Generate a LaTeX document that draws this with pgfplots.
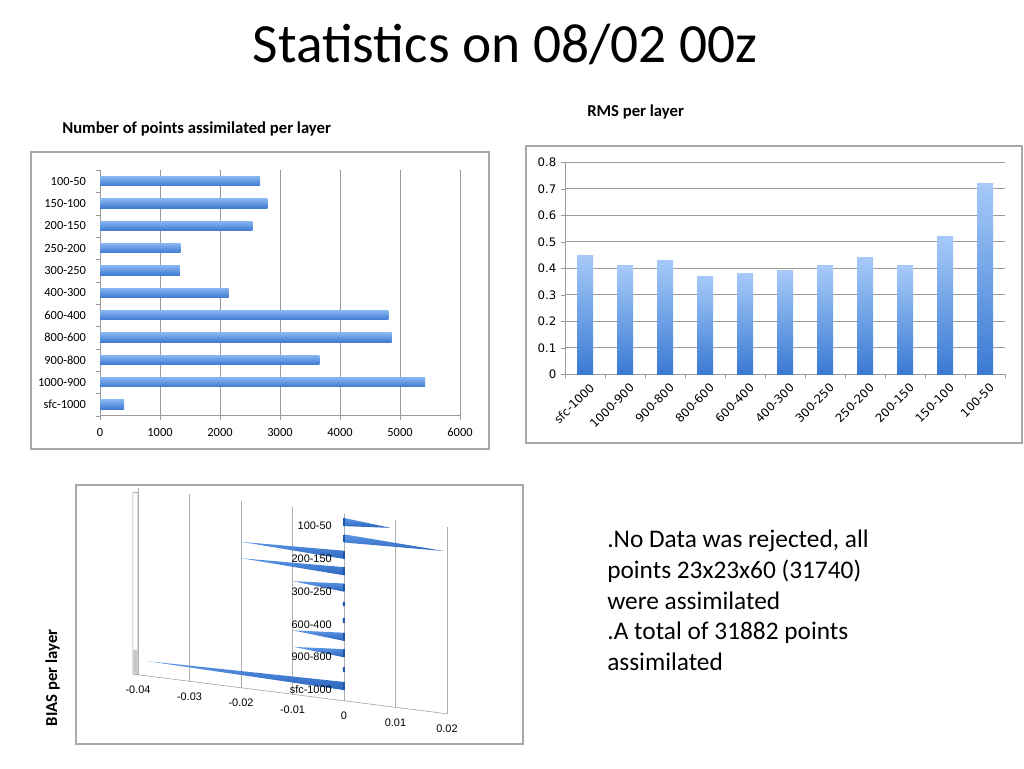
\documentclass[border=0pt]{standalone}
\usepackage{pgfplots}
\pgfplotsset{compat=1.18}
\usepackage{fontspec}
\setmainfont{Carlito}
\newfontfamily\dejavu{DejaVu Sans}
\newfontfamily\libsans{Liberation Sans}
\definecolor{lbarTop}{HTML}{86B4F0}
\definecolor{lbarMid}{HTML}{4E8ADD}
\definecolor{lbarBot}{HTML}{3F7BD2}
\definecolor{rbarTop}{HTML}{A6CAF8}
\definecolor{rbarBot}{HTML}{3A7AD3}
\definecolor{coneTop}{HTML}{5E97E6}
\definecolor{coneBot}{HTML}{2A64BC}
\definecolor{coneBase}{HTML}{1F55A8}
\definecolor{gridc}{HTML}{9A9A9A}
\definecolor{framec}{HTML}{A8A8A8}

\pgfplotsset{
  lbar/.style={xbar, bar shift=0pt, draw=none, top color=lbarTop, middle color=lbarMid, bottom color=lbarBot, forget plot},
  rbar/.style={ybar, bar shift=0pt, draw=none, top color=rbarTop, bottom color=rbarBot, forget plot},
  cone/.style={draw=none, top color=coneTop, bottom color=coneBot, forget plot},
}

\begin{document}
\begin{tikzpicture}[x=0.75pt,y=-0.75pt]
\path[use as bounding box] (0,0) rectangle (1024,768);

% ---- titles and text
\node[font=\fontsize{41.5}{48}\selectfont, anchor=base, inner sep=0pt] at (505,62.5) {Statistics on 08/02 00z};
\node[font=\bfseries\fontsize{12.5}{15}\selectfont, anchor=base west, inner sep=0pt] at (62,133.5) {Number of points assimilated per layer};
\node[font=\bfseries\fontsize{12.5}{15}\selectfont, anchor=base west, inner sep=0pt] at (587,116.5) {RMS per layer};
\node[font=\bfseries\fontsize{12.5}{15}\selectfont, anchor=base, rotate=90, inner sep=0pt] at (57,678) {BIAS per layer};
\node[font=\fontsize{19}{22.95}\selectfont, anchor=north west, inner sep=0pt, align=left] at (607,530)
 {.No Data was rejected, all\\points 23x23x60 (31740)\\were assimilated\\.A total of 31882 points\\assimilated};

% ---- frames
\draw[framec, line width=0.8pt] (31,152) rectangle (489,449);
\draw[framec, line width=0.8pt] (526,146) rectangle (1022,443);
\draw[framec, line width=0.8pt] (76,485) rectangle (523,744);

\coordinate (L) at (100,415.7);
\coordinate (R) at (565,374.3);
\coordinate (B) at (344,686);

% ---- left chart: number of points
\begin{axis}[at={(L)}, anchor=south west, scale only axis,
  width=270pt, height=184.3pt,
  bar width=7pt,
  xmin=0, xmax=6000, ymin=-0.5, ymax=10.5,
  axis x line*=bottom, axis y line*=left,
  axis line style={gridc, -},
  xmajorgrids, grid style={gridc, line width=0.6pt},
  xtick={0,1000,2000,3000,4000,5000,6000},
  ytick={0,...,10},
  yticklabels={sfc-1000,1000-900,900-800,800-600,600-400,400-300,300-250,250-200,200-150,150-100,100-50},
  ytick style={draw=none},
  xtick style={draw=gridc},
  tick align=outside, major tick length=3pt,
  extra y ticks={-0.5,0.5,1.5,2.5,3.5,4.5,5.5,6.5,7.5,8.5,9.5,10.5},
  extra y tick labels={},
  extra y tick style={ytick style={draw=gridc}},
  tick label style={font=\fontsize{9.3}{11}\selectfont},
  yticklabel style={xshift=-4pt},
  xticklabel style={yshift=-3pt},
  scaled x ticks=false,
  /pgf/number format/1000 sep={},
  /pgf/number format/assume math mode=true,
]
\addplot[lbar] coordinates {(400,0)};
\addplot[lbar] coordinates {(5417,1)};
\addplot[lbar] coordinates {(3656,2)};
\addplot[lbar] coordinates {(4861,3)};
\addplot[lbar] coordinates {(4806,4)};
\addplot[lbar] coordinates {(2144,5)};
\addplot[lbar] coordinates {(1333,6)};
\addplot[lbar] coordinates {(1344,7)};
\addplot[lbar] coordinates {(2539,8)};
\addplot[lbar] coordinates {(2789,9)};
\addplot[lbar] coordinates {(2667,10)};
\end{axis}

% ---- right chart: RMS
\begin{axis}[at={(R)}, anchor=south west, scale only axis,
  width=330pt, height=159pt,
  bar width=12pt,
  xmin=-0.5, xmax=10.5, ymin=0, ymax=0.8,
  axis x line*=bottom, axis y line*=left,
  axis line style={gridc, -},
  ymajorgrids, grid style={gridc, line width=0.6pt},
  ytick={0,0.1,0.2,0.3,0.4,0.5,0.6,0.7,0.8},
  xtick={0,...,10},
  xticklabels={sfc-1000,1000-900,900-800,800-600,600-400,400-300,300-250,250-200,200-150,150-100,100-50},
  xtick style={draw=none},
  ytick style={draw=gridc},
  tick align=outside, major tick length=3pt,
  extra x ticks={-0.5,0.5,1.5,2.5,3.5,4.5,5.5,6.5,7.5,8.5,9.5,10.5},
  extra x tick labels={},
  extra x tick style={xtick style={draw=gridc}, grid=none},
  tick label style={font=\dejavu\fontsize{8.8}{10}\selectfont},
  xticklabel style={rotate=45, anchor=north east, inner sep=1pt, xshift=1pt, yshift=-3pt},
  yticklabel style={/pgf/number format/fixed, /pgf/number format/precision=1},
  scaled y ticks=false,
  /pgf/number format/assume math mode=true,
]
\addplot[rbar] coordinates {(0,0.45)};
\addplot[rbar] coordinates {(1,0.41)};
\addplot[rbar] coordinates {(2,0.43)};
\addplot[rbar] coordinates {(3,0.37)};
\addplot[rbar] coordinates {(4,0.38)};
\addplot[rbar] coordinates {(5,0.39)};
\addplot[rbar] coordinates {(6,0.41)};
\addplot[rbar] coordinates {(7,0.44)};
\addplot[rbar] coordinates {(8,0.41)};
\addplot[rbar] coordinates {(9,0.52)};
\addplot[rbar] coordinates {(10,0.72)};
\end{axis}

% ---- bottom chart: BIAS
\begin{axis}[at={(B)}, anchor=origin,
  x={(3862.5pt,-487.5pt)}, y={(0pt,12.3pt)},
  xmin=-0.04, xmax=0.02, ymin=-0.9, ymax=10.5,
  axis x line*=bottom, axis y line=none,
  axis line style={gridc, -},
  xmajorgrids, grid style={gridc!80, line width=0.5pt},
  xtick={-0.04,-0.03,-0.02,-0.01,0,0.01,0.02},
  xtick style={draw=none},
  scaled x ticks=false,
  tick label style={font=\libsans\fontsize{8.2}{10}\selectfont},
  xticklabel style={yshift=-5pt, /pgf/number format/fixed, /pgf/number format/precision=2},
  /pgf/number format/assume math mode=true,
  clip=false,
]
% left wall
\draw[gridc, fill=white, line width=0.5pt] (axis cs:-0.0410,-0.9) -- (axis cs:-0.0410,10.2) -- (axis cs:-0.0400,10.2) -- (axis cs:-0.0400,-0.9) -- cycle;
\fill[gray!45] (axis cs:-0.0409,-0.85) -- (axis cs:-0.0409,0.6) -- (axis cs:-0.0401,0.6) -- (axis cs:-0.0401,-0.85) -- cycle;
% cones: base at 0, tip at the bias value
\addplot[cone] coordinates {(0,10.25) (0.009,10) (0,9.75)} --cycle;
\addplot[cone] coordinates {(0,9.25) (0.0194,9) (0,8.75)} --cycle;
\addplot[cone] coordinates {(0,8.25) (-0.02,8) (0,7.75)} --cycle;
\addplot[cone] coordinates {(0,7.25) (-0.02,7) (0,6.75)} --cycle;
\addplot[cone] coordinates {(0,6.25) (-0.01,6) (0,5.75)} --cycle;
\addplot[cone] coordinates {(0,5.2) (-0.0003,5) (0,4.8)} --cycle;
\addplot[cone] coordinates {(0,4.2) (-0.0003,4) (0,3.8)} --cycle;
\addplot[cone] coordinates {(0,3.25) (-0.01,3) (0,2.75)} --cycle;
\addplot[cone] coordinates {(0,2.25) (-0.0097,2) (0,1.75)} --cycle;
\addplot[cone] coordinates {(0,1.2) (-0.0003,1) (0,0.8)} --cycle;
\addplot[cone] coordinates {(0,0.25) (-0.0383,0) (0,-0.25)} --cycle;
\addplot[only marks, mark=|, mark size=2.8pt, mark options={draw=coneBase, line width=1.8pt}]
  coordinates {(0,0) (0,2) (0,3) (0,6) (0,7) (0,8) (0,9) (0,10)};
\addplot[only marks, mark=|, mark size=1.8pt, mark options={draw=coneBase, line width=1.2pt}]
  coordinates {(0,1) (0,4) (0,5)};
% category labels (every other one, as in the original)
\begin{scope}[every node/.style={anchor=east, font=\libsans\fontsize{8.2}{10}\selectfont, inner sep=0pt, xshift=-9pt, yshift=-3pt}]
\node at (axis cs:0,10) {100-50};
\node at (axis cs:0,8) {200-150};
\node at (axis cs:0,6) {300-250};
\node at (axis cs:0,4) {600-400};
\node at (axis cs:0,2) {900-800};
\node at (axis cs:0,0) {sfc-1000};
\end{scope}
\end{axis}
\end{tikzpicture}
\end{document}
